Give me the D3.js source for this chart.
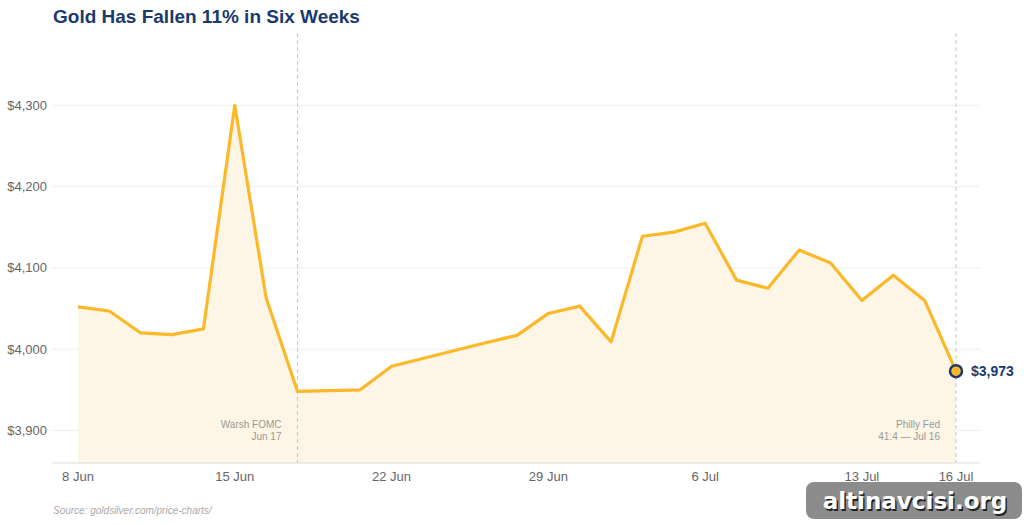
<!DOCTYPE html>
<html>
<head>
<meta charset="utf-8">
<script src="https://cdn.jsdelivr.net/npm/d3@7"></script>
<style>
  body { margin: 0; background: #fff; }
  svg { display: block; font-family: "Liberation Sans", Arial, sans-serif; }
</style>
</head>
<body>
<svg width="1024" height="525"></svg>
<script>
// trading-day index (0 = 8 Jun) and closing price
var dayIndex = [0, 1, 2, 3, 4, 5, 6, 7, 9, 10, 13, 14, 15, 16, 17, 18, 19, 20, 21, 22, 23, 24, 25, 26, 27, 28];
var price    = [4052, 4047, 4020, 4018, 4025, 4300, 4063, 3948, 3950, 3979, 4008, 4017, 4044, 4053, 4009, 4139, 4144, 4155, 4085, 4075, 4122, 4106, 4060, 4091, 4060, 3973];

var tickIndex = [0, 5, 10, 15, 20, 25, 28];
var tickLabels = ["8 Jun", "15 Jun", "22 Jun", "29 Jun", "6 Jul", "13 Jul", "16 Jul"];
var yTicks = [3900, 4000, 4100, 4200, 4300];

var events = [
  { idx: 7, lines: ["Warsh FOMC", "Jun 17"] },
  { idx: 28, lines: ["Philly Fed", "41.4 \u2014 Jul 16"] }
];

var navy = "#1a3a6e", gold = "#fbb829";

var svg = d3.select("svg");
var plotLeft = 52, plotRight = 980, plotTop = 33, plotBottom = 463;

var x = d3.scaleLinear().domain([0, 28]).range([78, 956]);
var y = d3.scaleLinear().domain([3860, 4389]).range([plotBottom, plotTop]);

var data = dayIndex.map(function (d, i) { return { i: d, v: price[i] }; });

// title
svg.append("text").attr("x", 53).attr("y", 23)
  .attr("font-size", 19).attr("font-weight", "bold").attr("fill", navy)
  .text("Gold Has Fallen 11% in Six Weeks");

// grid
svg.selectAll(".grid").data(yTicks).enter().append("line")
  .attr("x1", plotLeft).attr("x2", plotRight)
  .attr("y1", function (d) { return y(d); }).attr("y2", function (d) { return y(d); })
  .attr("stroke", "#eeeeee").attr("stroke-width", 1);

svg.selectAll(".ylab").data(yTicks).enter().append("text")
  .attr("x", 47).attr("y", function (d) { return y(d) + 4.5; })
  .attr("text-anchor", "end").attr("font-size", 13).attr("fill", "#666")
  .text(function (d) { return "$" + d3.format(",")(d); });

// area + line
var area = d3.area().x(function (d) { return x(d.i); }).y0(plotBottom).y1(function (d) { return y(d.v); });
svg.append("path").datum(data).attr("d", area).attr("fill", "#fdf5e6");

// event lines
events.forEach(function (e) {
  svg.append("line").attr("x1", x(e.idx)).attr("x2", x(e.idx))
    .attr("y1", plotTop).attr("y2", plotBottom)
    .attr("stroke", "#c8c8c8").attr("stroke-dasharray", "4,3");
  e.lines.forEach(function (t, k) {
    svg.append("text").attr("x", x(e.idx) - 16).attr("y", 428 + k * 12)
      .attr("text-anchor", "end").attr("font-size", 10).attr("fill", "#999")
      .text(t);
  });
});

var line = d3.line().x(function (d) { return x(d.i); }).y(function (d) { return y(d.v); });
svg.append("path").datum(data).attr("d", line)
  .attr("fill", "none").attr("stroke", gold).attr("stroke-width", 3.2)
  .attr("stroke-linejoin", "round");

// axis
svg.append("line").attr("x1", plotLeft).attr("x2", plotRight).attr("y1", plotBottom).attr("y2", plotBottom)
  .attr("stroke", "#dddddd");
svg.selectAll(".xlab").data(tickIndex).enter().append("text")
  .attr("x", function (d) { return x(d); }).attr("y", 481)
  .attr("text-anchor", "middle").attr("font-size", 13).attr("fill", "#666")
  .text(function (d, i) { return tickLabels[i]; });

// last point
var last = data[data.length - 1];
svg.append("circle").attr("cx", x(last.i)).attr("cy", y(last.v)).attr("r", 6)
  .attr("fill", gold).attr("stroke", navy).attr("stroke-width", 2.5);
svg.append("text").attr("x", x(last.i) + 15).attr("y", y(last.v) + 5)
  .attr("font-size", 14).attr("font-weight", "bold").attr("fill", navy)
  .text("$" + d3.format(",")(last.v));

// source
svg.append("text").attr("x", 53).attr("y", 514)
  .attr("font-size", 10).attr("font-style", "italic").attr("fill", "#aaa")
  .text("Source: goldsilver.com/price-charts/");

// watermark
var wm = svg.append("g");
wm.append("rect").attr("x", 806).attr("y", 482).attr("width", 216).attr("height", 37)
  .attr("rx", 8).attr("fill", "#808080").attr("fill-opacity", 0.9);
wm.append("text").attr("x", 915).attr("y", 509).attr("text-anchor", "middle")
  .attr("font-size", 23).attr("font-weight", "bold").attr("fill", "#222")
  .attr("font-family", "DejaVu Sans, sans-serif")
  .text("altinavcisi.org").attr("transform", "translate(1.5,1.5)");
wm.append("text").attr("x", 915).attr("y", 509).attr("text-anchor", "middle")
  .attr("font-size", 23).attr("font-weight", "bold").attr("fill", "#fff")
  .attr("font-family", "DejaVu Sans, sans-serif")
  .text("altinavcisi.org");
</script>
</body>
</html>
